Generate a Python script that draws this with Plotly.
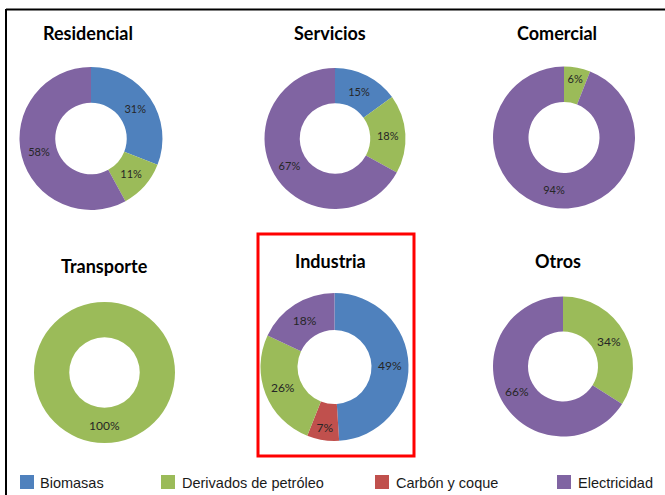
import plotly.graph_objects as go

W, H = 665, 495

# ---------------- data ----------------
sectors = ["Residencial", "Servicios", "Comercial", "Transporte", "Industria", "Otros"]
fuels = ["Biomasas", "Carbón y coque", "Derivados de petróleo", "Electricidad"]
legend_order = ["Biomasas", "Derivados de petróleo", "Carbón y coque", "Electricidad"]
biomasas = [31, 15, 0, 0, 49, 0]
carbon = [0, 0, 0, 0, 7, 0]
derivados = [11, 18, 6, 100, 26, 34]
electricidad = [58, 67, 94, 0, 18, 66]

colors = {
    "Biomasas": "#4F81BD",
    "Derivados de petróleo": "#9BBB59",
    "Carbón y coque": "#C0504D",
    "Electricidad": "#8064A2",
}

# ---------------- layout (pixels) ----------------
pie_geom = [  # cx, cy, r
    (91, 138.5, 71.5),
    (335, 138.5, 70.5),
    (564, 137.5, 71),
    (104.5, 372.5, 70.5),
    (334.5, 367, 74),
    (563, 366.5, 70),
]
title_pos = [
    (87.5, 33), (329.5, 33), (557, 33),
    (104.5, 266), (330, 261), (557.5, 261),
]
label_size = [11, 11, 11, 12, 12, 12]
legend_sq_x = [20, 161, 375, 557]
legend_tx_x = [38, 180, 394, 576]


def px_x(x):
    return x / W


def px_y(y):
    return 1 - y / H


fig = go.Figure()
series = [biomasas, carbon, derivados, electricidad]
for i, name in enumerate(sectors):
    labs, vals = [], []
    for f, s in zip(fuels, series):
        if s[i] > 0:
            labs.append(f)
            vals.append(s[i])
    cx, cy, r = pie_geom[i]
    fig.add_trace(go.Pie(
        labels=labs,
        values=vals,
        hole=0.5,
        sort=False,
        direction="clockwise",
        rotation=0,
        marker=dict(colors=[colors[l] for l in labs], line=dict(width=0)),
        texttemplate="%{value}%",
        textposition="inside",
        insidetextorientation="horizontal",
        textfont=dict(family="Lato, sans-serif", size=label_size[i], color="#262626"),
        showlegend=False,
        domain=dict(x=[px_x(cx - r), px_x(cx + r)], y=[px_y(cy + r), px_y(cy - r)]),
        name=name,
    ))

annotations = []
for i, name in enumerate(sectors):
    tx, ty = title_pos[i]
    annotations.append(dict(
        text="<b>" + name + "</b>", x=px_x(tx), y=px_y(ty), xref="paper", yref="paper",
        xanchor="center", yanchor="middle", showarrow=False,
        font=dict(family="Lato, sans-serif", size=18, color="#000000"),
    ))

shapes = []
for j, f in enumerate(legend_order):
    sx = legend_sq_x[j]
    shapes.append(dict(type="rect", xref="paper", yref="paper",
                       x0=px_x(sx), x1=px_x(sx + 14), y0=px_y(489), y1=px_y(475),
                       fillcolor=colors[f], line=dict(width=0)))
    annotations.append(dict(
        text=f, x=px_x(legend_tx_x[j]), y=px_y(483), xref="paper", yref="paper",
        xanchor="left", yanchor="middle", showarrow=False,
        font=dict(family="Liberation Sans, Arial, sans-serif", size=14.5, color="#1a1a1a"),
    ))

# outer frame lines (top and left)
shapes.append(dict(type="line", xref="paper", yref="paper",
                   x0=px_x(6), x1=1.0, y0=px_y(9.5), y1=px_y(9.5),
                   line=dict(color="#000000", width=2)))
shapes.append(dict(type="line", xref="paper", yref="paper",
                   x0=px_x(6), x1=px_x(6), y0=px_y(9), y1=0.0,
                   line=dict(color="#000000", width=2)))
# highlight box around Industria
shapes.append(dict(type="rect", xref="paper", yref="paper",
                   x0=px_x(258), x1=px_x(414), y0=px_y(456), y1=px_y(234),
                   line=dict(color="#FF0000", width=3), fillcolor="rgba(0,0,0,0)"))

fig.update_layout(
    width=W, height=H, autosize=False,
    margin=dict(l=0, r=0, t=0, b=0, pad=0),
    paper_bgcolor="#FFFFFF", plot_bgcolor="#FFFFFF",
    annotations=annotations, shapes=shapes,
)

fig.write_html("out.html")
